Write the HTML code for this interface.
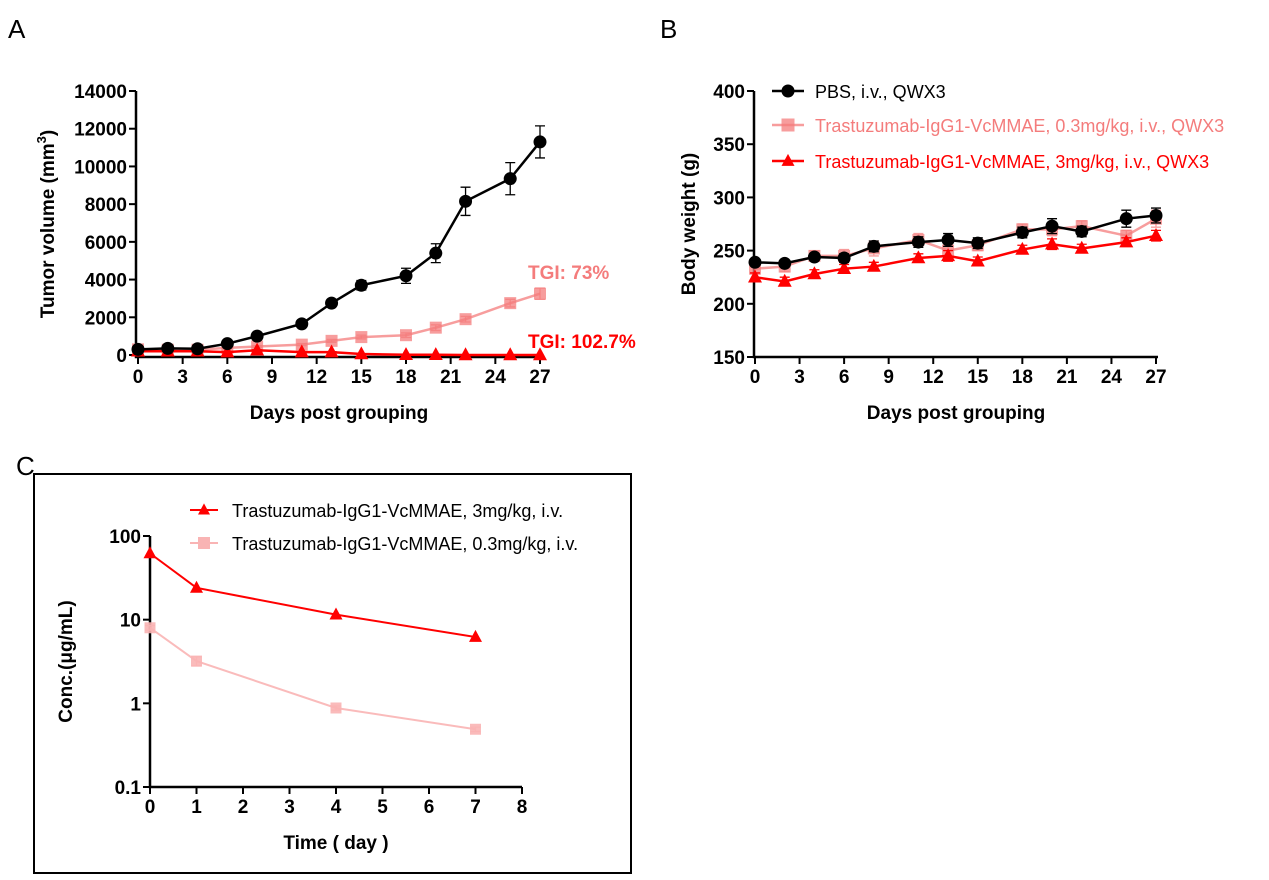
<!DOCTYPE html>
<html><head><meta charset="utf-8"><style>
body{margin:0;background:#fff;width:1269px;height:875px;overflow:hidden}
svg{font-family:"Liberation Sans",Arial,sans-serif}
</style></head><body>
<svg id="fig" width="1269" height="875" viewBox="0 0 1269 875" xmlns="http://www.w3.org/2000/svg">
<text x="8" y="38" font-size="26">A</text>
<text x="660" y="38" font-size="26">B</text>
<text x="16" y="475" font-size="26">C</text>
<rect x="34" y="474" width="597" height="399" fill="none" stroke="#000" stroke-width="2"/>
<g id="gA"></g>
<g id="gB"></g>
<g id="gC"></g>
</svg>
<script>
const days=[0,2,4,6,8,11,13,15,18,20,22,25,27];
const tvPBS=[300,350,330,600,1000,1650,2750,3700,4200,5400,8150,9350,11300];
const tvPBSerr=[50,50,50,60,80,100,150,250,400,500,750,850,850];
const tvLow=[300,280,280,380,450,550,750,950,1050,1450,1900,2750,3250];
const tvLowErr=[40,40,40,40,50,60,80,100,120,150,150,200,300];
const tvHigh=[200,200,200,150,250,150,150,50,10,10,0,0,0];
const tvHighErr=[30,30,30,30,30,30,30,20,10,10,0,0,0];
const bwPBS=[239,238,244,243,254,258,260,257,267,273,268,280,283];
const bwPBSerr=[3,3,3,4,5,5,6,5,5,7,5,8,7];
const bwLow=[233,235,245,245,252,260,250,255,270,270,273,264,280];
const bwLowErr=[5,5,5,6,7,6,6,5,5,6,5,5,8];
const bwHigh=[225,221,228,233,235,243,245,240,251,256,252,258,264];
const bwHighErr=[4,4,4,4,4,4,5,4,4,5,4,4,5];
const pkTime=[0,1,4,7];
const pkHigh=[62,24,11.5,6.2];
const pkLow=[8,3.2,0.88,0.49];
const pkLowErr=[0.5,0.4,0.05,0.03];
const xTicksDays=[0,3,6,9,12,15,18,21,24,27];
const yTicksA=[0,2000,4000,6000,8000,10000,12000,14000];
const yTicksB=[150,200,250,300,350,400];
const yTicksC=[0.1,1,10,100];
const xTicksC=[0,1,2,3,4,5,6,7,8];

const NS="http://www.w3.org/2000/svg";
function mk(p,tag,at){const e=document.createElementNS(NS,tag);for(const k in at)e.setAttribute(k,at[k]);p.appendChild(e);return e;}
function txt(p,x,y,s,at){const e=mk(p,'text',Object.assign({x:x,y:y},at));e.textContent=s;return e;}
const BLACK='#000',PINK='#f47c7c',RED='#ff0000',LPINK='#f9b4b4';

function marker(g,type,x,y,col,sz,op){
  let e;
  if(type==='circle')e=mk(g,'circle',{cx:x,cy:y,r:sz,fill:col});
  else if(type==='square')e=mk(g,'rect',{x:x-sz,y:y-sz,width:2*sz,height:2*sz,fill:col,'fill-opacity':op||1});
  else e=mk(g,'polygon',{points:`${x},${y-sz*1.1} ${x-sz},${y+sz*0.75} ${x+sz},${y+sz*0.75}`,fill:col});
  return e;
}
function series(g,name,xs,ys,errs,sx,sy,col,type,sz,op,lw){
  const sg=mk(g,'g',{});
  
  
  const pts=xs.map((x,i)=>sx(x)+','+sy(ys[i])).join(' ');
  mk(sg,'polyline',{points:pts,fill:'none',stroke:col,'stroke-width':lw||2.5,'stroke-opacity':op||1});
  if(errs)xs.forEach((x,i)=>{if(!errs[i])return;const X=sx(x),a=sy(ys[i]+errs[i]),b=sy(Math.max(ys[i]-errs[i],1e-9));
    mk(sg,'path',{d:`M${X},${a}V${b}M${X-5},${a}H${X+5}M${X-5},${b}H${X+5}`,stroke:col,'stroke-width':1.3,fill:'none','stroke-opacity':op||1});});
  xs.forEach((x,i)=>{const m=marker(sg,type,sx(x),sy(ys[i]),col,sz,op);
    });
}
function axes(g,x0,x1,y0,y1,xt,yt,sx,sy,xlab,ylab,ylx,yfmt){
  mk(g,'path',{d:`M${x0},${y1}V${y0}H${x1}`,stroke:'#000','stroke-width':2.5,fill:'none'});
  xt.forEach(t=>{const X=sx(t);mk(g,'line',{x1:X,x2:X,y1:y0,y2:y0+7,stroke:'#000','stroke-width':2});
    const l=txt(g,X,y0+26,String(t),{'font-size':19,'font-weight':'bold','text-anchor':'middle'});
    });
  yt.forEach(t=>{const Y=sy(t);mk(g,'line',{x1:x0-7,x2:x0,y1:Y,y2:Y,stroke:'#000','stroke-width':2});
    const l=txt(g,x0-9,Y+7,yfmt?yfmt(t):String(t),{'font-size':19,'font-weight':'bold','text-anchor':'end'});
    });
  const xl=txt(g,(x0+x1)/2,y0+62,xlab,{'font-size':19,'font-weight':'bold','text-anchor':'middle'});
  
  const yl=txt(g,0,0,'',{'font-size':19,'font-weight':'bold','text-anchor':'middle',transform:`translate(${ylx},${(y0+y1)/2}) rotate(-90)`});
  yl.innerHTML=ylab;
  
}
// Panel A
(function(){
  const g=document.getElementById('gA');
  const sx=d=>138+d*(540-138)/27, sy=v=>355-v*(355-91)/14000;
  axes(g,136,542,357,91,xTicksDays,yTicksA,sx,sy,'Days post grouping','Tumor volume (mm<tspan dy="-8" font-size="13">3</tspan><tspan dy="8">)</tspan>',54);
  series(g,'pbs-0.3-series',days,tvLow,tvLowErr,sx,sy,PINK,'square',6,0.75);
  series(g,'high-dose-series',days,tvHigh,tvHighErr,sx,sy,RED,'triangle',7);
  series(g,'pbs-series',days,tvPBS,tvPBSerr,sx,sy,BLACK,'circle',6.5);
  const a=txt(g,528,279,'TGI: 73%',{'font-size':19,'font-weight':'bold',fill:PINK});
  const b=txt(g,528,348,'TGI: 102.7%',{'font-size':19,'font-weight':'bold',fill:RED});
})();
// Panel B
(function(){
  const g=document.getElementById('gB');
  const sx=d=>755+d*(1156-755)/27, sy=v=>357-(v-150)*(357-91)/250;
  axes(g,754,1158,357,91,xTicksDays,yTicksB,sx,sy,'Days post grouping','Body weight (g)',695);
  series(g,'bw-low-series',days,bwLow,bwLowErr,sx,sy,PINK,'square',6,0.75);
  series(g,'bw-high-series',days,bwHigh,bwHighErr,sx,sy,RED,'triangle',7);
  series(g,'bw-pbs-series',days,bwPBS,bwPBSerr,sx,sy,BLACK,'circle',6.5);
  const leg=[['PBS, i.v., QWX3',BLACK,'circle',91],['Trastuzumab-IgG1-VcMMAE, 0.3mg/kg, i.v., QWX3',PINK,'square',125],['Trastuzumab-IgG1-VcMMAE, 3mg/kg, i.v., QWX3',RED,'triangle',161]];
  leg.forEach(l=>{const lg=mk(g,'g',{});
    mk(lg,'line',{x1:772,x2:804,y1:l[3],y2:l[3],stroke:l[1],'stroke-width':2.5,'stroke-opacity':l[1]===PINK?0.75:1});
    marker(lg,l[2],788,l[3],l[1],6.5,l[1]===PINK?0.75:1);
    txt(lg,815,l[3]+7,l[0],{'font-size':18,fill:l[1]});});
})();
// Panel C
(function(){
  const g=document.getElementById('gC');
  const sx=d=>150+d*(522-150)/8, sy=v=>787-(Math.log10(v)+1)*(787-536)/3;
  axes(g,150,522,787,536,xTicksC,yTicksC,sx,sy,'Time ( day )','Conc.(μg/mL)',72,t=>String(t));
  series(g,'pk-low-series',pkTime,pkLow,pkLowErr,sx,sy,LPINK,'square',5.5,0.9,2);
  series(g,'pk-high-series',pkTime,pkHigh,null,sx,sy,RED,'triangle',6.5,1,2);
  const leg=[['Trastuzumab-IgG1-VcMMAE, 3mg/kg, i.v.',RED,'triangle',510],['Trastuzumab-IgG1-VcMMAE, 0.3mg/kg, i.v.',LPINK,'square',543]];
  leg.forEach(l=>{const lg=mk(g,'g',{});
    mk(lg,'line',{x1:190,x2:218,y1:l[3],y2:l[3],stroke:l[1],'stroke-width':2});
    marker(lg,l[2],204,l[3],l[1],6,1);
    txt(lg,232,l[3]+7,l[0],{'font-size':18,fill:'#000'});});
})();
</script>
</body></html>
